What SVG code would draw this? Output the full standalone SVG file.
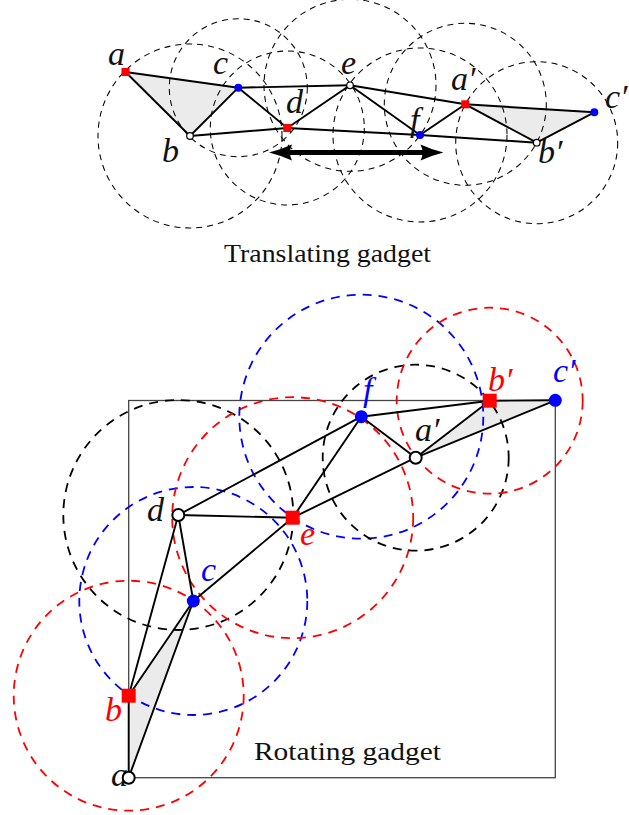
<svg xmlns="http://www.w3.org/2000/svg" width="629" height="815" viewBox="0 0 629 815">
<style>
.bg{fill:#ffffff}
.tri{fill:#ebebeb;stroke:none}
.dt{fill:none;stroke:#000;stroke-width:1.05;stroke-dasharray:6 5}
.db{fill:none;stroke-width:1.8;stroke-dasharray:9 7}
.dk{stroke:#000}
.dr{stroke:#ff0000}
.dbl{stroke:#0000ff}
.e{stroke:#000;stroke-width:1.9;fill:none;stroke-linecap:round}
.rsq{fill:#ff0000}
.bdot{fill:#0000ff}
.wn{fill:#fff;stroke:#000}
.lbl{font-family:"Liberation Serif","Times New Roman",serif;font-style:italic;font-size:34px}
.cap{font-family:"Liberation Serif","Times New Roman",serif;font-size:25px;fill:#111}
.k{fill:#111}
.r{fill:#ff0000}
.u{fill:#0000ff}
</style>
<rect class="bg" x="0" y="0" width="629" height="815"/>

<!-- ===== Translating gadget ===== -->
<g id="top-fills">
<polygon class="tri" points="125.5,72 190,136 238.3,87.7"/>
<polygon class="tri" points="465.3,104.3 536.7,142.7 594.3,112.3"/>
</g>
<g id="top-circles">
<circle class="dt" cx="190" cy="136" r="92"/>
<circle class="dt" cx="238.3" cy="87.7" r="69"/>
<circle class="dt" cx="287.3" cy="128" r="77"/>
<circle class="dt" cx="350" cy="85.3" r="86"/>
<circle class="dt" cx="420" cy="135" r="87"/>
<circle class="dt" cx="465.3" cy="104.3" r="81"/>
<circle class="dt" cx="536.7" cy="142.7" r="81"/>
</g>
<g id="top-connectors">
<line class="e" x1="125.5" y1="72" x2="238.3" y2="87.7"/>
<line class="e" x1="125.5" y1="72" x2="190" y2="136"/>
<line class="e" x1="190" y1="136" x2="238.3" y2="87.7"/>
<line class="e" x1="238.3" y1="87.7" x2="287.3" y2="128"/>
<line class="e" x1="238.3" y1="87.7" x2="350" y2="85.3"/>
<line class="e" x1="190" y1="136" x2="287.3" y2="128"/>
<line class="e" x1="287.3" y1="128" x2="350" y2="85.3"/>
<line class="e" x1="287.3" y1="128" x2="420" y2="135"/>
<line class="e" x1="420" y1="135" x2="536.7" y2="142.7"/>
<line class="e" x1="350" y1="85.3" x2="420" y2="135"/>
<line class="e" x1="350" y1="85.3" x2="465.3" y2="104.3"/>
<line class="e" x1="420" y1="135" x2="465.3" y2="104.3"/>
<line class="e" x1="465.3" y1="104.3" x2="594.3" y2="112.3"/>
<line class="e" x1="465.3" y1="104.3" x2="536.7" y2="142.7"/>
<line class="e" x1="536.7" y1="142.7" x2="594.3" y2="112.3"/>
<line x1="286" y1="152.5" x2="427" y2="152.5" stroke="#000" stroke-width="5"/>
<path d="M269,152.5 Q281,149.5 292,144.5 Q288,152.5 292,160.5 Q281,155.5 269,152.5 Z" fill="#000"/>
<path d="M443.5,152.5 Q431.5,149.5 420.5,144.5 Q424.5,152.5 420.5,160.5 Q431.5,155.5 443.5,152.5 Z" fill="#000"/>
</g>
<g id="t-a"><rect class="rsq" x="121.5" y="68" width="8" height="8"/><text class="lbl k" x="108" y="65">a</text></g>
<g id="t-b"><circle class="wn" cx="190" cy="136" r="3.3" stroke-width="1.2"/><text class="lbl k" x="162" y="162">b</text></g>
<g id="t-c"><circle class="bdot" cx="238.3" cy="87.7" r="4"/><text class="lbl k" x="213" y="74">c</text></g>
<g id="t-d"><rect class="rsq" x="283.3" y="124" width="8" height="8"/><text class="lbl k" x="286" y="113">d</text></g>
<g id="t-e"><circle class="wn" cx="350" cy="85.3" r="3.3" stroke-width="1.2"/><text class="lbl k" x="341" y="74">e</text></g>
<g id="t-f"><circle class="bdot" cx="420" cy="135" r="4"/><text class="lbl k" x="410" y="131">f</text></g>
<g id="t-a2"><rect class="rsq" x="461.3" y="100.3" width="8" height="8"/><text class="lbl k" x="451" y="90">a′</text></g>
<g id="t-b2"><circle class="wn" cx="536.7" cy="142.7" r="3.3" stroke-width="1.2"/><text class="lbl k" x="538" y="163">b′</text></g>
<g id="t-c2"><circle class="bdot" cx="594.3" cy="112.3" r="4"/><text class="lbl k" x="605" y="108">c′</text></g>
<text class="cap" x="224" y="262" textLength="207" lengthAdjust="spacingAndGlyphs">Translating gadget</text>

<!-- ===== Rotating gadget ===== -->
<g id="frame"><rect x="128.7" y="400.5" width="426.6" height="377.2" fill="none" stroke="#444" stroke-width="1.3"/></g>
<g id="bottom-fills">
<polygon class="tri" points="128.7,777.7 128.7,695.7 193.3,601"/>
<polygon class="tri" points="415.7,457.7 489.7,400.7 555.3,400.3"/>
</g>
<g id="bottom-circles">
<circle class="db dr" cx="128.7" cy="695.7" r="115"/>
<circle class="db dbl" cx="193.3" cy="601" r="114"/>
<circle class="db dk" cx="178.3" cy="515" r="115"/>
<circle class="db dr" cx="292.7" cy="517.7" r="120.5"/>
<circle class="db dbl" cx="361.3" cy="416.7" r="122"/>
<circle class="db dk" cx="415.7" cy="457.7" r="93"/>
<circle class="db dr" cx="489.7" cy="400.7" r="93"/>
</g>
<g id="bottom-connectors">
<line class="e" x1="128.7" y1="777.7" x2="128.7" y2="695.7" stroke-width="2.2"/>
<line class="e" x1="128.7" y1="777.7" x2="193.3" y2="601"/>
<line class="e" x1="128.7" y1="695.7" x2="193.3" y2="601"/>
<line class="e" x1="128.7" y1="695.7" x2="178.3" y2="515"/>
<line class="e" x1="178.3" y1="515" x2="193.3" y2="601"/>
<line class="e" x1="178.3" y1="515" x2="292.7" y2="517.7"/>
<line class="e" x1="178.3" y1="515" x2="361.3" y2="416.7"/>
<line class="e" x1="193.3" y1="601" x2="292.7" y2="517.7"/>
<line class="e" x1="292.7" y1="517.7" x2="361.3" y2="416.7"/>
<line class="e" x1="292.7" y1="517.7" x2="415.7" y2="457.7"/>
<line class="e" x1="361.3" y1="416.7" x2="415.7" y2="457.7"/>
<line class="e" x1="361.3" y1="416.7" x2="489.7" y2="400.7"/>
<line class="e" x1="415.7" y1="457.7" x2="489.7" y2="400.7"/>
<line class="e" x1="415.7" y1="457.7" x2="555.3" y2="400.3"/>
<line class="e" x1="489.7" y1="400.7" x2="555.3" y2="400.3" stroke-width="2.2"/>
</g>
<g id="r-a"><text class="lbl k" x="111" y="786">a</text><circle class="wn" cx="128.7" cy="777.7" r="6" stroke-width="2"/></g>
<g id="r-b"><rect class="rsq" x="121.7" y="688.7" width="14" height="14"/><text class="lbl r" x="105" y="721">b</text></g>
<g id="r-c"><circle class="bdot" cx="193.3" cy="601" r="6.5"/><text class="lbl u" x="201" y="581">c</text></g>
<g id="r-d"><circle class="wn" cx="178.3" cy="515" r="6" stroke-width="2"/><text class="lbl k" x="147" y="521">d</text></g>
<g id="r-e"><rect class="rsq" x="285.7" y="510.7" width="14" height="14"/><text class="lbl r" x="300" y="545">e</text></g>
<g id="r-f"><circle class="bdot" cx="361.3" cy="416.7" r="6.5"/><text class="lbl u" x="363" y="401">f</text></g>
<g id="r-a2"><circle class="wn" cx="415.7" cy="457.7" r="6" stroke-width="2"/><text class="lbl k" x="415" y="441">a′</text></g>
<g id="r-b2"><rect class="rsq" x="482.7" y="393.7" width="14" height="14"/><text class="lbl r" x="488" y="391">b′</text></g>
<g id="r-c2"><circle class="bdot" cx="555.3" cy="400.3" r="6.5"/><text class="lbl u" x="553" y="382">c′</text></g>
<text class="cap" x="254" y="760" textLength="187" lengthAdjust="spacingAndGlyphs">Rotating gadget</text>
</svg>
